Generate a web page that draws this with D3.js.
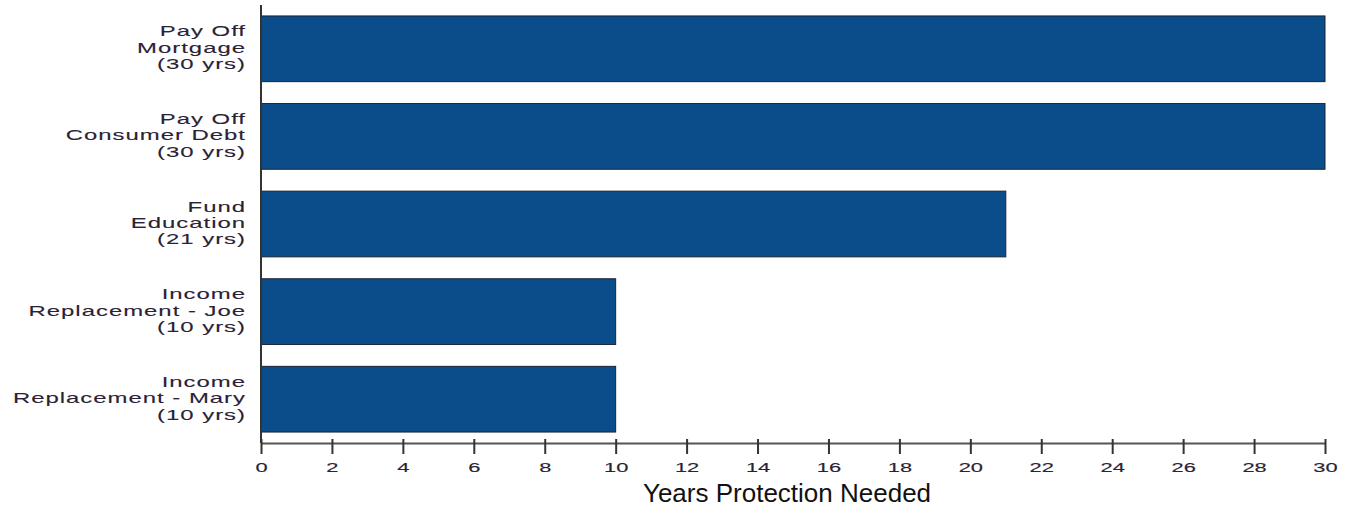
<!DOCTYPE html>
<html>
<head>
<meta charset="utf-8">
<script src="https://cdn.jsdelivr.net/npm/d3@7"></script>
<style>
  html, body { margin: 0; padding: 0; background: #fff; }
  svg { display: block; }
</style>
</head>
<body>
<svg id="chart" width="1349" height="508"></svg>
<script>
// Protection goals and the number of years each one needs covering
const goalLines = [
  ["Pay Off", "Mortgage", "(30 yrs)"],
  ["Pay Off", "Consumer Debt", "(30 yrs)"],
  ["Fund", "Education", "(21 yrs)"],
  ["Income", "Replacement - Joe", "(10 yrs)"],
  ["Income", "Replacement - Mary", "(10 yrs)"]
];
const goalKeys = ["mortgage", "debt", "education", "joe", "mary"];
const yearsNeeded = [30, 30, 21, 10, 10];
const xTicks = [0, 2, 4, 6, 8, 10, 12, 14, 16, 18, 20, 22, 24, 26, 28, 30];
const xTitle = "Years Protection Needed";

const svg = d3.select("#chart");
const plotLeft = 261, plotRight = 1325, plotTop = 5, plotBottom = 443;
const font = "'Liberation Sans', Arial, sans-serif";
const wide = 1.65; // horizontally widened lettering for labels

const x = d3.scaleLinear().domain([0, 30]).range([plotLeft, plotRight]);
const y = d3.scaleBand().domain(goalKeys).range([plotTop, plotBottom])
  .paddingInner(0.25).paddingOuter(0.125);

// bars
svg.append("g").selectAll("rect")
  .data(goalKeys)
  .join("rect")
  .attr("x", x(0))
  .attr("y", d => y(d))
  .attr("width", (d, i) => x(yearsNeeded[i]) - x(0))
  .attr("height", y.bandwidth())
  .attr("fill", "#0b4d8a")
  .attr("stroke", "#1a2533")
  .attr("stroke-width", 1);

// x axis
const xAxis = d3.axisBottom(x).tickValues(xTicks).tickSize(11).tickSizeOuter(0);
const gx = svg.append("g").attr("transform", `translate(0,${plotBottom})`).call(xAxis);
gx.select(".domain").attr("stroke", "#555").attr("stroke-width", 2);
gx.selectAll(".tick line").attr("stroke", "#333").attr("stroke-width", 2).attr("y1", -4);
gx.selectAll(".tick text")
  .attr("font-family", font)
  .attr("font-size", 13.5)
  .attr("fill", "#2a2235")
  .attr("stroke", "#2a2235")
  .attr("stroke-width", 0.15)
  .attr("y", 29)
  .attr("dy", 0)
  .attr("transform", "scale(1.62,1)");

// y axis line
svg.append("line")
  .attr("x1", plotLeft).attr("x2", plotLeft)
  .attr("y1", plotTop).attr("y2", plotBottom)
  .attr("stroke", "#333").attr("stroke-width", 2);

// category labels
const lab = svg.append("g").selectAll("text")
  .data(goalKeys)
  .join("text")
  .attr("text-anchor", "end")
  .attr("font-family", font)
  .attr("font-size", 14.5)
  .attr("letter-spacing", 0.6)
  .attr("fill", "#2a2235")
  .attr("stroke", "#2a2235")
  .attr("stroke-width", 0.1)
  .attr("transform", d => `translate(246,${y(d) + y.bandwidth() / 2}) scale(${wide},1)`);
lab.each(function(d, i) {
  const t = d3.select(this);
  goalLines[i].forEach((line, j) => {
    t.append("tspan").attr("x", 0).attr("y", (j - 1) * 16.5 + 4).text(line);
  });
});

// axis title
svg.append("text")
  .attr("x", 787)
  .attr("y", 502)
  .attr("text-anchor", "middle")
  .attr("font-family", font)
  .attr("font-size", 26)
  .attr("fill", "#111")
  .text(xTitle);
</script>
</body>
</html>
